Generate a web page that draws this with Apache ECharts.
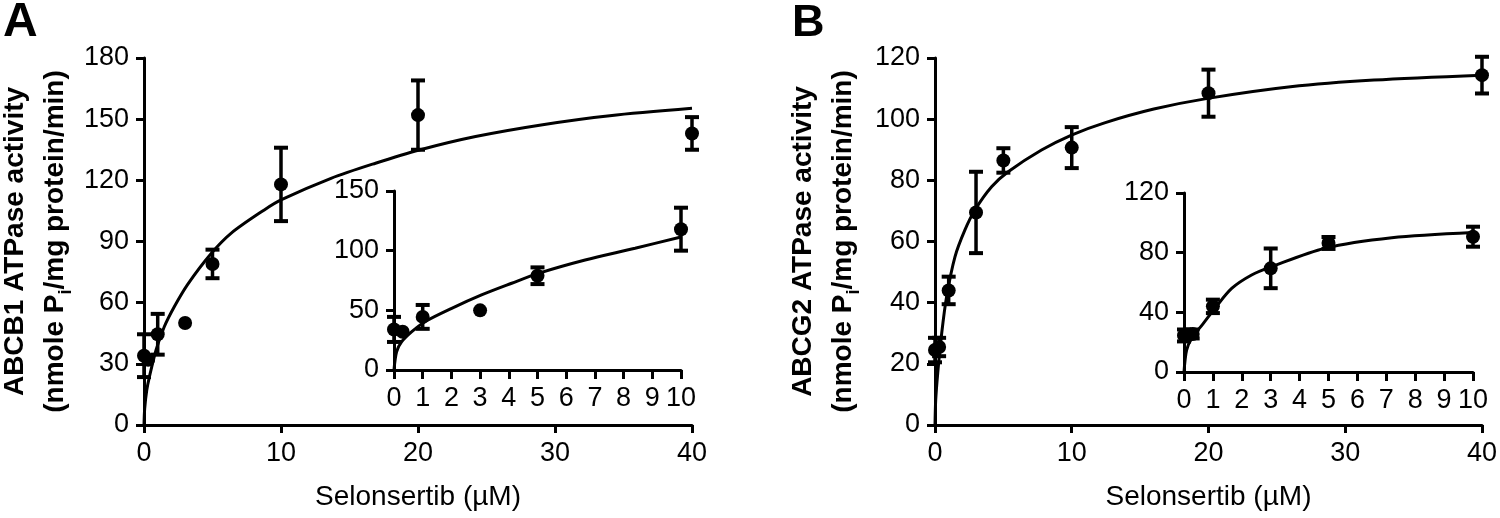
<!DOCTYPE html>
<html>
<head>
<meta charset="utf-8">
<script src="https://cdn.jsdelivr.net/npm/echarts@6/dist/echarts.min.js"></script>
<style>html,body{margin:0;padding:0;background:#fff;}#c{width:1500px;height:518px;}</style>
</head>
<body>
<div id="c"></div>
<script>
// Panel A (ABCB1) measured points
const aX = [0, 0.3, 1, 3, 5, 10, 20, 40];
const aY = [34, 32, 44.5, 50, 79, 118, 152, 143];
const aErr = [10.5, 0, 10, 0, 7, 18, 17, 8];
// Panel A fitted curve - main plot
const aCurveX = [0, 0.05, 0.2, 0.39, 0.88, 1.48, 2.21, 3.19, 4.89, 6.35, 8.78, 10, 13.65, 16.9, 20.1, 24.2, 29.1, 34, 40];
const aCurveY = [0, 8, 17, 23.5, 36.8, 48.2, 58, 69, 84, 94, 105.5, 110.4, 121, 128.4, 134.9, 141.5, 147.3, 151.7, 155.3];
// Panel A inset curve
const aInCurveX = [0, 0.09, 0.27, 0.62, 1.08, 2.01, 3.05, 4.1, 5.03, 6.66, 8.4, 10];
const aInCurveY = [0, 15.3, 23.7, 32.1, 40.5, 51.7, 62.9, 72.7, 81, 92.2, 102, 111.5];

// Panel B (ABCG2) measured points
const bX = [0, 0.3, 1, 3, 5, 10, 20, 40];
const bY = [24.5, 25.5, 44, 69.5, 86.5, 90.7, 108.5, 114.4];
const bErr = [4, 3, 4.5, 13.3, 4, 6.7, 7.7, 6];
// Panel B fitted curve - main plot
const bCurveX = [0, 0.05, 0.2, 0.49, 0.85, 1.46, 2.19, 2.92, 4.14, 5.35, 7.79, 9.98, 12.4, 16, 19.95, 26, 32.1, 40];
const bCurveY = [0, 8, 17, 30, 42, 55, 63.8, 70.3, 77.9, 82.8, 89.9, 94.8, 98.8, 103.3, 106.8, 110.6, 112.8, 114.4];
// Panel B inset curve
const bInCurveX = [0, 0.09, 0.27, 0.67, 1.07, 1.65, 2.34, 3.03, 4.88, 7.19, 10];
const bInCurveY = [0, 14.7, 22.6, 32.6, 42.7, 56, 65, 70.6, 83, 90, 93.5];

// Tick settings
const mainXTicks = {min: 0, max: 40, interval: 10};
const insetXTicks = {min: 0, max: 10, interval: 1};
const aMainYTicks = {min: 0, max: 180, interval: 30};
const aInsetYTicks = {min: 0, max: 150, interval: 50};
const bMainYTicks = {min: 0, max: 120, interval: 20};
const bInsetYTicks = {min: 0, max: 120, interval: 40};

const FONT = '"Liberation Sans", Arial, sans-serif';
const xTitle = 'Selonsertib (µM)';
const aYTitle = '{a|ABCB1 ATPase activity}\n{a|(nmole P}{s|i}{a|/mg protein/min)}';
const bYTitle = '{a|ABCG2 ATPase activity}\n{a|(nmole P}{s|i}{a|/mg protein/min)}';

function axis(ticks, grid, extra) {
  return Object.assign({
    type: 'value', gridIndex: grid,
    min: ticks.min, max: ticks.max, interval: ticks.interval,
    axisLine: {show: true, onZero: false, lineStyle: {color: '#000', width: 3}},
    axisTick: {show: true, length: 8, lineStyle: {color: '#000', width: 3}},
    axisLabel: {color: '#000', fontSize: 27, fontFamily: FONT, margin: 15},
    splitLine: {show: false}
  }, extra || {});
}
const yNameStyle = {
  color: '#000', fontFamily: FONT,
  rich: {
    a: {fontSize: 28, fontWeight: 'bold', lineHeight: 40, color: '#000', fontFamily: FONT},
    s: {fontSize: 18, fontWeight: 'bold', lineHeight: 22, verticalAlign: 'bottom', color: '#000', fontFamily: FONT}
  }
};
const xNameStyle = {color: '#000', fontSize: 28, fontFamily: FONT};

function zip(xs, ys) { return xs.map((x, i) => [x, ys[i]]); }
function zip3(xs, ys, es) { return xs.map((x, i) => [x, ys[i], es[i]]); }
function upto(arr, xs, lim) { return arr.filter((v, i) => xs[i] <= lim); }

function errItem(params, api) {
  const x = api.value(0), y = api.value(1), e = api.value(2);
  if (!e) return null;
  const t = api.coord([x, y + e]);
  const b = api.coord([x, y - e]);
  const w = 7;
  const st = {stroke: '#000', lineWidth: 3.5};
  const cap = {stroke: '#000', lineWidth: 4};
  return {type: 'group', children: [
    {type: 'line', shape: {x1: t[0], y1: t[1], x2: b[0], y2: b[1]}, style: st},
    {type: 'line', shape: {x1: t[0] - w, y1: t[1], x2: t[0] + w, y2: t[1]}, style: cap},
    {type: 'line', shape: {x1: b[0] - w, y1: b[1], x2: b[0] + w, y2: b[1]}, style: cap}
  ]};
}

function seriesSet(idx, px, py, pe, cx, cy) {
  return [
    {type: 'line', xAxisIndex: idx, yAxisIndex: idx, data: zip(cx, cy), showSymbol: false, smooth: 0.3,
     lineStyle: {color: '#000', width: 3}, silent: true, z: 3},
    {type: 'custom', xAxisIndex: idx, yAxisIndex: idx, data: zip3(px, py, pe), renderItem: errItem,
     encode: {x: 0, y: 1}, clip: false, z: 4},
    {type: 'scatter', xAxisIndex: idx, yAxisIndex: idx, data: zip(px, py), symbol: 'circle', symbolSize: 14,
     itemStyle: {color: '#000', opacity: 1}, z: 5}
  ];
}

const aInX = upto(aX, aX, 10), aInY = upto(aY, aX, 10), aInE = upto(aErr, aX, 10);
const bInX = upto(bX, bX, 10), bInY = upto(bY, bX, 10), bInE = upto(bErr, bX, 10);

const chart = echarts.init(document.getElementById('c'), null, {renderer: 'canvas'});
chart.setOption({
  animation: false,
  backgroundColor: '#fff',
  grid: [
    {left: 143, top: 58, width: 549, height: 367},
    {left: 394, top: 191, width: 287, height: 179},
    {left: 935, top: 58, width: 548, height: 367},
    {left: 1184, top: 193, width: 289, height: 179}
  ],
  xAxis: [
    axis(mainXTicks, 0, {name: xTitle, nameLocation: 'middle', nameGap: 58, nameTextStyle: xNameStyle}),
    axis(insetXTicks, 1, {axisTick: {show: true, length: 9, lineStyle: {color: '#000', width: 3}}}),
    axis(mainXTicks, 2, {name: xTitle, nameLocation: 'middle', nameGap: 58, nameTextStyle: xNameStyle}),
    axis(insetXTicks, 3, {axisTick: {show: true, length: 9, lineStyle: {color: '#000', width: 3}}})
  ],
  yAxis: [
    axis(aMainYTicks, 0, {name: aYTitle, nameLocation: 'middle', nameRotate: 90, nameGap: 69, nameTextStyle: yNameStyle}),
    axis(aInsetYTicks, 1),
    axis(bMainYTicks, 2, {name: bYTitle, nameLocation: 'middle', nameRotate: 90, nameGap: 72, nameTextStyle: yNameStyle}),
    axis(bInsetYTicks, 3)
  ],
  graphic: [
    {type: 'text', left: 3, top: -1, style: {text: 'A', font: 'bold 48px ' + FONT, fill: '#000'}},
    {type: 'text', left: 792, top: 1, style: {text: 'B', font: 'bold 45px ' + FONT, fill: '#000'}}
  ],
  series: [].concat(
    seriesSet(0, aX, aY, aErr, aCurveX, aCurveY),
    seriesSet(1, aInX, aInY, aInE, aInCurveX, aInCurveY),
    seriesSet(2, bX, bY, bErr, bCurveX, bCurveY),
    seriesSet(3, bInX, bInY, bInE, bInCurveX, bInCurveY)
  )
});
</script>
</body>
</html>
